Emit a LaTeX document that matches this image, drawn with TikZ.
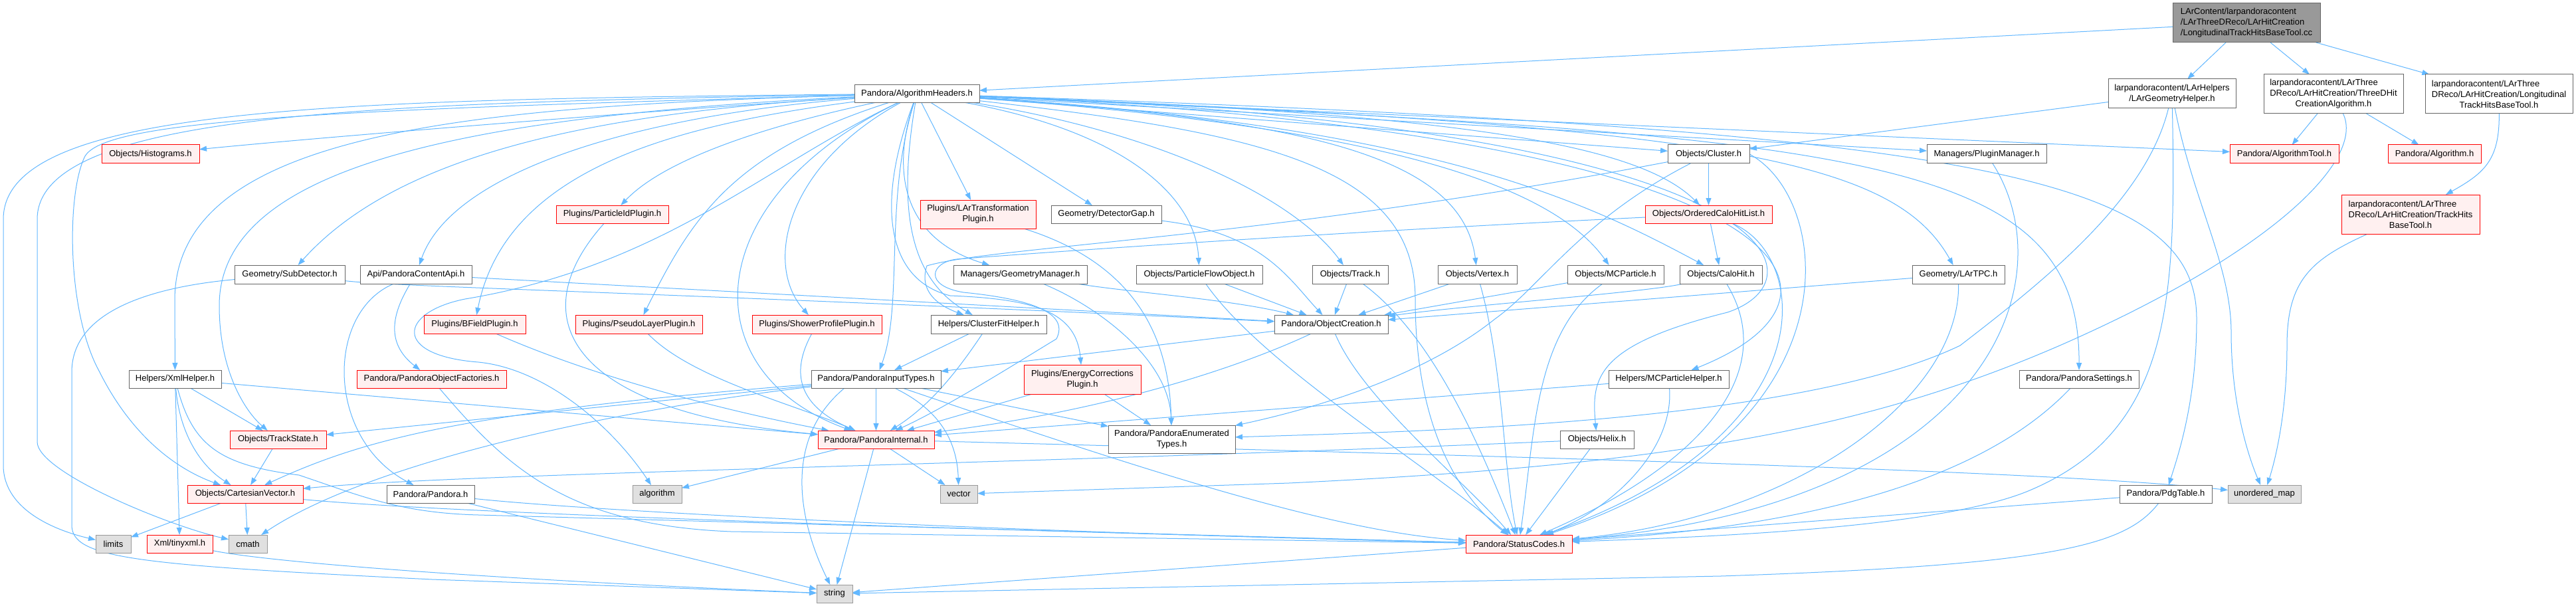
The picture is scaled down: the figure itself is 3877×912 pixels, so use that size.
\documentclass[tikz,border=0pt]{standalone}
\usepackage{fontspec}
\setmainfont{Liberation Sans}
\usetikzlibrary{arrows.meta,backgrounds}
\definecolor{edgec}{HTML}{63B8FF}
\definecolor{nb}{HTML}{666666}
\definecolor{xb}{HTML}{999999}
\definecolor{xf}{HTML}{E0E0E0}
\definecolor{rf}{HTML}{FFF0F0}
\definecolor{mf}{HTML}{999999}
\tikzset{
  base/.style={rectangle, inner sep=0pt, outer sep=0pt, line width=1pt, font=\fontsize{13}{16}\selectfont, text=black},
  wn/.style={base, draw=nb, fill=white},
  rn/.style={base, draw=red, fill=rf},
  gn/.style={base, draw=xb, fill=xf},
  mn/.style={base, draw=nb, fill=mf},
  sz/.style 2 args={minimum width=#1pt, minimum height=#2pt},
  ed/.style={draw=edgec, line width=1pt, -{Triangle[length=11pt,width=8pt]}},
}
\begin{document}
\begin{tikzpicture}[x=1pt,y=-1pt]
\useasboundingbox (0,0) rectangle (3877,912);
% ---------------- nodes
\node[mn, sz={222}{59}, align=left] (main) at (3381,34.5) {LArContent/larpandoracontent\\/LArThreeDReco/LArHitCreation\\/LongitudinalTrackHitsBaseTool.cc};
\node[wn, sz={192}{44}, align=center] (lgh) at (3269,141) {larpandoracontent/LArHelpers\\/LArGeometryHelper.h};
\node[wn, sz={210}{59}, align=center] (tdh) at (3512,141.5) {\rlap{larpandoracontent/LArThree}\phantom{DReco/LArHitCreation/ThreeDHit}\\DReco/LArHitCreation/ThreeDHit\\CreationAlgorithm.h};
\node[wn, sz={222}{59}, align=center] (lth) at (3761,141.5) {\rlap{larpandoracontent/LArThree}\phantom{DReco/LArHitCreation/Longitudinal}\\DReco/LArHitCreation/Longitudinal\\TrackHitsBaseTool.h};
\node[wn, sz={188}{27}] (ah) at (1380,141) {Pandora/AlgorithmHeaders.h};
\node[rn, sz={147}{28}] (hist) at (226.5,232) {Objects/Histograms.h};
\node[wn, sz={123}{28}] (cluster) at (2571.5,232) {Objects/Cluster.h};
\node[wn, sz={180}{28}] (plugm) at (2990,232) {Managers/PluginManager.h};
\node[rn, sz={164}{28}] (algtool) at (3438,232) {Pandora/AlgorithmTool.h};
\node[rn, sz={140}{28}] (alg) at (3664,232) {Pandora/Algorithm.h};
\node[rn, sz={169}{27}] (pid) at (921.5,322.5) {Plugins/ParticleIdPlugin.h};
\node[rn, sz={174}{43}, align=center] (lartp) at (1472,322.5) {Plugins/LArTransformation\\Plugin.h};
\node[wn, sz={166}{27}] (dgap) at (1665,322.5) {Geometry/DetectorGap.h};
\node[rn, sz={191}{27}] (ochl) at (2571.5,322.5) {Objects/OrderedCaloHitList.h};
\node[rn, sz={208}{59}, align=center] (thb) at (3628,322.5) {\rlap{larpandoracontent/LArThree}\phantom{DReco/LArHitCreation/TrackHits}\\DReco/LArHitCreation/TrackHits\\BaseTool.h};
\node[wn, sz={166}{28}] (subdet) at (436,413) {Geometry/SubDetector.h};
\node[wn, sz={168}{28}] (pca) at (626,413) {Api/PandoraContentApi.h};
\node[wn, sz={201}{28}] (geom) at (1535.5,413) {Managers/GeometryManager.h};
\node[wn, sz={190}{28}] (pfo) at (1805,413) {Objects/ParticleFlowObject.h};
\node[wn, sz={114}{28}] (track) at (2032,413) {Objects/Track.h};
\node[wn, sz={119}{28}] (vertex) at (2223.5,413) {Objects/Vertex.h};
\node[wn, sz={145}{28}] (mcp) at (2431.5,413) {Objects/MCParticle.h};
\node[wn, sz={124}{28}] (calohit) at (2590,413) {Objects/CaloHit.h};
\node[wn, sz={139}{28}] (lartpc) at (2947.5,413) {Geometry/LArTPC.h};
\node[rn, sz={153}{28}] (bfield) at (714.5,488) {Plugins/BFieldPlugin.h};
\node[rn, sz={191}{28}] (psl) at (961.5,488) {Plugins/PseudoLayerPlugin.h};
\node[rn, sz={195}{28}] (spp) at (1229.5,488) {Plugins/ShowerProfilePlugin.h};
\node[wn, sz={174}{28}] (cfh) at (1488,488) {Helpers/ClusterFitHelper.h};
\node[wn, sz={171}{28}] (objc) at (2003.5,488) {Pandora/ObjectCreation.h};
\node[wn, sz={139}{27}] (xml) at (263.5,570.5) {Helpers/XmlHelper.h};
\node[rn, sz={225}{27}] (pof) at (649.5,570.5) {Pandora/PandoraObjectFactories.h};
\node[wn, sz={195}{27}] (pit) at (1318.5,570.5) {Pandora/PandoraInputTypes.h};
\node[rn, sz={176}{44}, align=center] (ecp) at (1629,571) {Plugins/EnergyCorrections\\Plugin.h};
\node[wn, sz={181}{27}] (mcph) at (2511.5,570.5) {Helpers/MCParticleHelper.h};
\node[wn, sz={180}{27}] (pset) at (3129,570.5) {Pandora/PandoraSettings.h};
\node[rn, sz={145}{27}] (ts) at (418.5,661.5) {Objects/TrackState.h};
\node[rn, sz={175}{27}] (pint) at (1318.5,661.5) {Pandora/PandoraInternal.h};
\node[wn, sz={191}{42}, align=center] (pet) at (1763.5,661) {Pandora/PandoraEnumerated\\Types.h};
\node[wn, sz={111}{27}] (helix) at (2403.5,661.5) {Objects/Helix.h};
\node[rn, sz={174}{27}] (cv) at (369,743.5) {Objects/CartesianVector.h};
\node[wn, sz={132}{27}] (pandorah) at (648,743.5) {Pandora/Pandora.h};
\node[gn, sz={74}{27}] (algo) at (989,743.5) {algorithm};
\node[gn, sz={56}{27}] (vector) at (1443,743.5) {vector};
\node[wn, sz={139}{27}] (pdg) at (3259.5,743.5) {Pandora/PdgTable.h};
\node[gn, sz={110}{27}] (umap) at (3408,743.5) {unordered\_map};
\node[gn, sz={53}{27}] (limits) at (170.5,818.5) {limits};
\node[rn, sz={99}{27}] (tiny) at (270.5,818.5) {Xml/tinyxml.h};
\node[gn, sz={58}{27}] (cmath) at (373,818.5) {cmath};
\node[rn, sz={160}{27}] (sc) at (2286,818.5) {Pandora/StatusCodes.h};
\node[gn, sz={54}{27}] (string) at (1256,893.5) {string};
% ---------------- edges
\begin{pgfonlayer}{background}
\fill[white] (0,0) rectangle (3877,912);
\draw[ed] (main) -- (ah);
\draw[ed] (main) -- (lgh);
\draw[ed] (main) -- (tdh);
\draw[ed] (main) -- (lth);
\draw[ed] (tdh) -- (algtool);
\draw[ed] (tdh) -- (alg);
\draw[ed] (tdh) .. controls (3560,240) and (3420,380) .. (3100,520) .. controls (2800,650) and (2500,700) .. (1940,727) -- (vector);
\draw[ed] (lth) .. controls (3762,240) and (3740,260) .. (thb);
\draw[ed] (thb) .. controls (3480,390) and (3442,420) .. (3442,520) .. controls (3442,620) and (3425,690) .. (umap);
\draw[ed] (lgh) -- (cluster);
\draw[ed] (lgh) .. controls (3300,300) and (3358,400) .. (3358,500) .. controls (3358,610) and (3385,690) .. (umap);
\draw[ed] (lgh) .. controls (3275,450) and (3270,650) .. (3050,740) .. controls (2900,800) and (2500,810) .. (sc);
\draw[ed] (lgh) .. controls (3230,300) and (3080,420) .. (2950,520) .. controls (2700,640) and (2100,650) .. (pet);
% AlgorithmHeaders
\draw[ed] (ah) .. controls (1000,165) and (500,205) .. (hist);
\draw[ed] (ah) .. controls (500,150) and (5,160) .. (5,330) -- (5,700) .. controls (5,770) and (90,800) .. (limits);
\draw[ed] (ah) .. controls (550,155) and (56,170) .. (56,330) -- (56,665) .. controls (56,710) and (250,790) .. (cmath);
\draw[ed] (ah) .. controls (500,165) and (160,180) .. (128,235) .. controls (100,290) and (100,470) .. (150,560) .. controls (190,640) and (250,700) .. (cv);
\draw[ed] (ah) .. controls (700,160) and (265,200) .. (263,450) -- (xml);
\draw[ed] (ah) .. controls (700,175) and (330,250) .. (330,460) .. controls (330,560) and (370,620) .. (ts);
\draw[ed] (ah) .. controls (900,170) and (600,230) .. (subdet);
\draw[ed] (ah) .. controls (950,175) and (680,260) .. (pca);
\draw[ed] (ah) .. controls (1150,190) and (1000,240) .. (pid);
\draw[ed] (ah) .. controls (1000,190) and (760,260) .. (bfield);
\draw[ed] (ah) .. controls (1100,230) and (1040,330) .. (psl);
\draw[ed] (ah) .. controls (1180,250) and (1150,400) .. (spp);
\draw[ed] (ah) .. controls (1150,250) and (1000,400) .. (700,450) .. controls (600,470) and (590,535) .. (720,545) .. controls (820,555) and (920,640) .. (algo);
\draw[ed] (ah) .. controls (1050,300) and (1040,560) .. (pint);
\draw[ed] (ah) -- (lartp);
\draw[ed] (ah) -- (dgap);
\draw[ed] (ah) .. controls (1340,260) and (1360,360) .. (geom);
\draw[ed] (ah) .. controls (1330,300) and (1360,460) .. (pit);
\draw[ed] (ah) .. controls (1350,320) and (1370,420) .. (cfh);
\draw[ed] (ah) .. controls (1320,300) and (1330,420) .. (1430,445) .. controls (1560,450) and (1620,470) .. (ecp);
\draw[ed] (ah) .. controls (1700,200) and (1800,300) .. (pfo);
\draw[ed] (ah) .. controls (1750,200) and (1950,300) .. (track);
\draw[ed] (ah) .. controls (1950,180) and (2200,230) .. (vertex);
\draw[ed] (ah) .. controls (2050,190) and (2330,270) .. (mcp);
\draw[ed] (ah) .. controls (2150,190) and (2380,300) .. (calohit);
\draw[ed] (ah) .. controls (2150,170) and (2460,210) .. (ochl);
\draw[ed] (ah) -- (cluster);
\draw[ed] (ah) -- (plugm);
\draw[ed] (ah) -- (algtool);
\draw[ed] (ah) .. controls (2600,190) and (2850,240) .. (lartpc);
\draw[ed] (ah) .. controls (2700,200) and (2840,440) .. (mcph);
\draw[ed] (ah) .. controls (2700,190) and (2750,420) .. (2600,470) .. controls (2400,520) and (2395,570) .. (helix);
\draw[ed] (ah) .. controls (2800,205) and (3130,230) .. (pset);
\draw[ed] (ah) .. controls (3000,195) and (3306,270) .. (3306,480) .. controls (3306,600) and (3280,680) .. (pdg);
\draw[ed] (ah) .. controls (1900,200) and (2130,250) .. (2130,450) .. controls (2130,650) and (2200,750) .. (sc);
% left side
\draw[ed] (subdet) .. controls (600,432) and (1000,440) .. (objc);
\draw[ed] (subdet) .. controls (250,430) and (108,460) .. (108,560) -- (108,790) .. controls (108,840) and (200,850) .. (650,872) -- (string);
\draw[ed] (pca) -- (objc);
\draw[ed] (pca) .. controls (585,480) and (585,520) .. (pof);
\draw[ed] (pca) .. controls (490,470) and (490,660) .. (pandorah);
\draw[ed] (xml) -- (ts);
\draw[ed] (xml) .. controls (270,650) and (300,700) .. (cv);
\draw[ed] (xml) -- (tiny);
\draw[ed] (xml) -- (pint);
\draw[ed] (xml) .. controls (290,670) and (330,700) .. (450,715) .. controls (540,745) and (600,772) .. (720,775) -- (sc);
\draw[ed] (ts) -- (cv);
\draw[ed] (cv) -- (limits);
\draw[ed] (cv) -- (cmath);
\draw[ed] (cv) .. controls (600,765) and (1000,785) .. (sc);
\draw[ed] (pof) .. controls (760,700) and (850,790) .. (1100,800) -- (sc);
\draw[ed] (pandorah) -- (string);
\draw[ed] (pandorah) .. controls (900,770) and (1500,800) .. (sc);
\draw[ed] (tiny) .. controls (400,845) and (700,870) .. (string);
% plugins
\draw[ed] (pid) .. controls (780,480) and (860,620) .. (pint);
\draw[ed] (bfield) .. controls (900,570) and (1100,620) .. (pint);
\draw[ed] (psl) .. controls (1040,570) and (1200,610) .. (pint);
\draw[ed] (spp) .. controls (1190,560) and (1200,610) .. (pint);
\draw[ed] (lartp) .. controls (1720,400) and (1760,520) .. (pet);
\draw[ed] (geom) .. controls (1700,440) and (1850,450) .. (objc);
\draw[ed] (geom) .. controls (1650,460) and (1760,540) .. (pet);
\draw[ed] (dgap) .. controls (1900,350) and (1940,420) .. (objc);
\draw[ed] (pfo) -- (objc);
\draw[ed] (pfo) .. controls (1900,550) and (2150,700) .. (sc);
\draw[ed] (cfh) -- (pit);
\draw[ed] (cfh) .. controls (1440,560) and (1400,610) .. (pint);
\draw[ed] (pit) -- (pint);
\draw[ed] (pit) -- (ts);
\draw[ed] (pit) .. controls (700,620) and (550,660) .. (cv);
\draw[ed] (pit) .. controls (900,620) and (550,700) .. (cmath);
\draw[ed] (pit) .. controls (1400,610) and (1440,650) .. (vector);
\draw[ed] ([xshift=50pt]pit.south west) .. controls (1180,660) and (1200,780) .. (string);
\draw[ed] (pit) -- (pet);
\draw[ed] (pit) .. controls (1700,700) and (2000,800) .. (sc);
\draw[ed] (pint) -- (algo);
\draw[ed] (pint) -- (vector);
\draw[ed] (pint) -- (string);
\draw[ed] (pint) .. controls (2400,690) and (3100,710) .. (umap);
\draw[ed] (ecp) -- (pint);
\draw[ed] (ecp) -- (pet);
\draw[ed] (objc) -- (pit);
\draw[ed] (objc) .. controls (1850,560) and (1650,620) .. (pint);
\draw[ed] (objc) .. controls (2050,600) and (2200,720) .. (sc);
\draw[ed] (track) -- (objc);
\draw[ed] (track) .. controls (2150,500) and (2220,650) .. (sc);
\draw[ed] (vertex) -- (objc);
\draw[ed] (vertex) .. controls (2262,550) and (2262,700) .. (sc);
\draw[ed] (mcp) -- (objc);
\draw[ed] (mcp) .. controls (2310,500) and (2310,650) .. (sc);
\draw[ed] (calohit) .. controls (2480,440) and (2200,460) .. (objc);
\draw[ed] (calohit) .. controls (2680,560) and (2560,700) .. (sc);
\draw[ed] (ochl) -- (calohit);
\draw[ed] (ochl) .. controls (2100,345) and (1700,370) .. (1440,390) .. controls (1400,395) and (1390,430) .. (1450,440) .. controls (1550,450) and (1610,470) .. (1590,510) .. controls (1540,540) and (1430,610) .. (pint);
\draw[ed] (ochl) .. controls (2720,380) and (2760,650) .. (sc);
\draw[ed] (cluster) -- (ochl);
\draw[ed] (cluster) .. controls (1900,360) and (1500,370) .. (1395,400) .. controls (1385,430) and (1400,455) .. (cfh);
\draw[ed] (cluster) .. controls (2380,330) and (2320,430) .. (2250,480) .. controls (2150,560) and (2000,610) .. (pet);
\draw[ed] (cluster.east) .. controls (2760,300) and (2800,650) .. (sc);
\draw[ed] (plugm) .. controls (3110,420) and (3000,760) .. (sc);
\draw[ed] (lartpc) -- (objc);
\draw[ed] (lartpc) .. controls (2950,600) and (2700,780) .. (sc);
\draw[ed] (mcph) -- (pint);
\draw[ed] (mcph) .. controls (2520,680) and (2420,770) .. (sc);
\draw[ed] (helix) .. controls (1500,700) and (700,712) .. (cv);
\draw[ed] (helix) -- (sc);
\draw[ed] (pset) .. controls (2950,760) and (2600,800) .. (sc);
\draw[ed] (pdg) -- (sc);
\draw[ed] (pdg) .. controls (3200,820) and (3100,850) .. (2590,867) -- (string);
\draw[ed] (sc) -- (string);
\end{pgfonlayer}
\end{tikzpicture}
\end{document}
